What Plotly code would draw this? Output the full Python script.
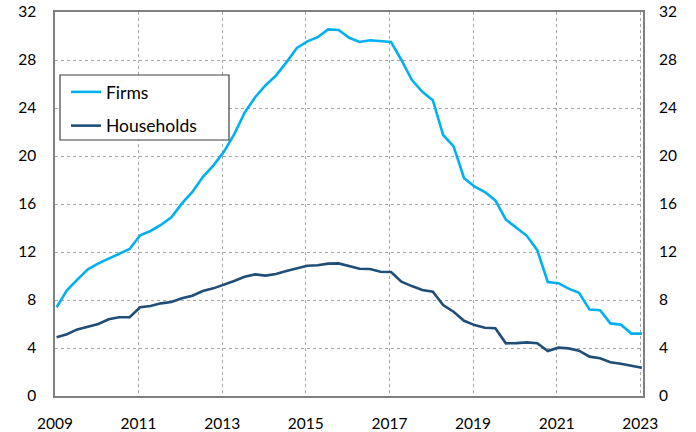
import plotly.graph_objects as go

# quarterly observations 2009Q1 .. 2023Q1
years = [y for y in range(2009, 2023) for _ in range(4)] + [2023]
quarters = [q for _ in range(2009, 2023) for q in range(1, 5)] + [1]

firms = [7.4, 8.8, 9.7, 10.55, 11.05, 11.45, 11.85, 12.25,
         13.4, 13.75, 14.25, 14.9, 16.05, 17.0, 18.25, 19.2,
         20.35, 21.8, 23.6, 24.9, 25.9, 26.7, 27.8, 29.0,
         29.55, 29.9, 30.55, 30.5, 29.85, 29.5, 29.65, 29.6,
         29.5, 28.0, 26.35, 25.35, 24.65, 21.75, 20.8, 18.15,
         17.45, 17.0, 16.3, 14.7, 14.0, 13.35, 12.15, 9.5,
         9.4, 8.95, 8.6, 7.2, 7.15, 6.05, 5.95, 5.2, 5.2]

households = [4.9, 5.15, 5.55, 5.8, 6.0, 6.4, 6.56, 6.56,
              7.4, 7.5, 7.72, 7.83, 8.14, 8.36, 8.75, 8.97,
              9.25, 9.58, 9.94, 10.13, 10.03, 10.17, 10.42, 10.67,
              10.86, 10.89, 11.03, 11.05, 10.85, 10.6, 10.58, 10.36,
              10.33, 9.52, 9.16, 8.83, 8.69, 7.58, 7.02, 6.27,
              5.91, 5.69, 5.64, 4.39, 4.41, 4.47, 4.39, 3.75,
              4.03, 3.97, 3.78, 3.28, 3.14, 2.81, 2.69, 2.5, 2.36]

x_ticks = [2009, 2011, 2013, 2015, 2017, 2019, 2021, 2023]
y_ticks = [0, 4, 8, 12, 16, 20, 24, 28, 32]

dates = [f"{y}-{(q - 1) * 3 + 1:02d}-15" for y, q in zip(years, quarters)]

FONT = "Lato"
TICK_SIZE = 15.5
LEG_SIZE = 17.5
GRID = "#A6A6A6"
AXIS = "#7F7F7F"

L, R, T, B = 55, 53, 12, 36
PW = 696 - L - R
PH = 432 - T - B

fig = go.Figure()
fig.add_trace(go.Scatter(x=dates, y=firms, name="Firms", mode="lines",
                         line=dict(color="#00B0F0", width=2.6),
                         legendgroup="a"))
fig.add_trace(go.Scatter(x=dates, y=households, name="Households", mode="lines",
                         line=dict(color="#1F4E79", width=2.6),
                         legendgroup="b"))
fig.add_trace(go.Scatter(x=[dates[0]], y=[firms[0]], yaxis="y2", mode="lines",
                         showlegend=False, hoverinfo="skip",
                         line=dict(color="rgba(0,0,0,0)")))

fig.update_layout(
    width=696, height=432,
    margin=dict(l=L, r=R, t=T, b=B, autoexpand=False),
    paper_bgcolor="white", plot_bgcolor="white",
    font=dict(family=FONT, size=TICK_SIZE, color="#000000"),
    showlegend=True,
    legend=dict(x=(66 - L) / PW, y=(432 - B - 74) / PH,
                xanchor="left", yanchor="top",
                bgcolor="rgba(0,0,0,0)", borderwidth=0,
                tracegroupgap=8, font=dict(family=FONT, size=LEG_SIZE)),
    xaxis=dict(type="date", automargin=False,
               range=["2009-01-01", "2023-01-25"],
               tickvals=[f"{y}-01-01" for y in x_ticks],
               ticktext=[str(y) for y in x_ticks],
               showgrid=True, gridcolor=GRID, griddash="dot", gridwidth=1,
               showline=True, linecolor=AXIS, linewidth=1.5, mirror=True,
               ticks="", ticklabelstandoff=13, zeroline=False,
               tickfont=dict(family=FONT, size=TICK_SIZE)),
    yaxis=dict(range=[0, 32], tickvals=y_ticks, automargin=False,
               showgrid=True, gridcolor=GRID, griddash="dot", gridwidth=1,
               showline=True, linecolor=AXIS, linewidth=1.5, mirror=True,
               ticks="", ticklabelstandoff=14, zeroline=False,
               tickfont=dict(family=FONT, size=TICK_SIZE)),
    yaxis2=dict(range=[0, 32], tickvals=y_ticks, overlaying="y", side="right",
                automargin=False,
                showgrid=False, showline=False, zeroline=False,
                ticks="", ticklabelstandoff=15,
                tickfont=dict(family=FONT, size=TICK_SIZE)),
    shapes=[dict(type="rect", xref="paper", yref="paper",
                 x0=(60 - L) / PW, x1=(229 - L) / PW,
                 y0=(432 - B - 140) / PH, y1=(432 - B - 75) / PH,
                 line=dict(color="#404040", width=1.2),
                 fillcolor="white", layer="above")],
)

fig.write_html("out.html",
               config={"displayModeBar": False},
               post_script="document.body.style.margin='0';"
                           "document.body.style.overflow='hidden';")
